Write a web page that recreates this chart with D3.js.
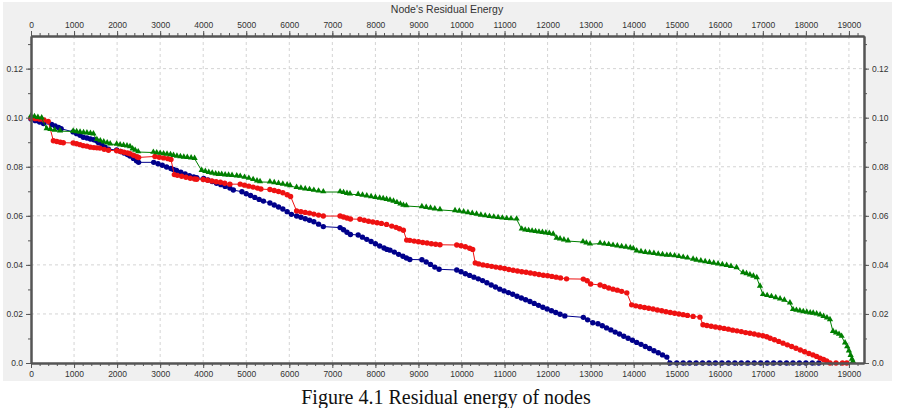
<!DOCTYPE html>
<html>
<head>
<meta charset="utf-8">
<script src="https://cdnjs.cloudflare.com/ajax/libs/d3/7.8.5/d3.min.js"></script>
<style>
  body { margin: 0; background: #fff; }
  svg { display: block; }
</style>
</head>
<body>
<div id="chart"></div>
<script>
"use strict";

// == DATA ==
var chartTitle = "Node's Residual Energy";
var caption = "Figure 4.1 Residual energy of nodes";

var xTicks = [0, 1000, 2000, 3000, 4000, 5000, 6000, 7000, 8000, 9000, 10000,
              11000, 12000, 13000, 14000, 15000, 16000, 17000, 18000, 19000];
var yTicks = [0, 0.02, 0.04, 0.06, 0.08, 0.10, 0.12];
var yTickLabels = ["0.0", "0.02", "0.04", "0.06", "0.08", "0.10", "0.12"];

// [time, residual energy]
var blueNodes = [
  [0,0.0995],[100,0.0988],[200,0.0982],[290,0.0976],
  [480,0.0972],[560,0.0966],[640,0.096],[700,0.0955],
  [980,0.0942],[1060,0.0935],[1140,0.0928],[1215,0.092],
  [1300,0.0917],[1380,0.0913],[1460,0.091],[1530,0.0905],
  [1570,0.0898],[1650,0.089],[1720,0.088],[1800,0.0872],
  [1990,0.0868],[2080,0.0862],[2160,0.0856],[2240,0.085],[2300,0.0844],[2380,0.0834],[2450,0.0824],[2500,0.0818],
  [2850,0.0818],[2950,0.0812],[3050,0.0806],[3150,0.0799],[3250,0.0793],[3310,0.0789],
  [3380,0.0785],[3480,0.0778],[3580,0.0771],[3680,0.0764],[3780,0.0758],[3850,0.0755],
  [4010,0.0752],[4110,0.0746],[4210,0.074],[4310,0.0733],[4410,0.0727],[4510,0.072],[4620,0.0713],[4700,0.0705],
  [4900,0.0698],[5000,0.069],[5100,0.0683],[5200,0.0675],[5300,0.0667],[5400,0.066],
  [5550,0.0652],[5650,0.0644],[5750,0.0636],[5850,0.0628],[5950,0.0617],[6050,0.0606],
  [6170,0.0599],[6270,0.0594],[6370,0.0588],[6470,0.0582],[6570,0.0576],[6680,0.0566],[6790,0.0556],
  [7180,0.0552],[7260,0.0543],[7340,0.0533],[7420,0.0524],
  [7600,0.0522],[7700,0.0513],[7800,0.0504],[7900,0.0495],[8000,0.0486],[8100,0.0477],[8200,0.0469],[8270,0.0463],
  [8340,0.046],[8440,0.0452],[8540,0.0443],[8640,0.0435],[8720,0.0428],[8800,0.0422],
  [9080,0.0421],[9180,0.0412],[9280,0.0402],[9380,0.0391],[9480,0.0382],
  [9890,0.0379],[9990,0.0372],[10090,0.0364],[10190,0.0357],[10290,0.035],[10390,0.0343],
  [10490,0.0336],[10590,0.0327],[10690,0.0318],[10790,0.031],[10890,0.0301],[10990,0.0294],
  [11090,0.0287],[11190,0.028],[11290,0.0272],[11390,0.0265],[11490,0.0258],[11590,0.0251],
  [11690,0.0243],[11790,0.0235],[11890,0.0227],[11990,0.022],[12090,0.0213],[12190,0.0206],
  [12290,0.0199],[12400,0.0192],
  [12830,0.0186],[12930,0.0176],[13050,0.0164],
  [13170,0.016],[13270,0.0152],[13370,0.0143],[13470,0.0135],[13570,0.0126],[13670,0.0118],
  [13770,0.0109],[13870,0.0101],[13970,0.0093],[14070,0.0084],[14170,0.0076],[14270,0.0067],
  [14370,0.0059],[14470,0.005],[14570,0.0042],[14670,0.0033],[14770,0.0024],
  [14840,0],[15000,0],[15150,0],[15300,0],[15450,0],[15600,0],[15750,0],[15900,0],
  [16050,0],[16200,0],[16350,0],[16500,0],[16650,0],[16800,0],[16950,0],[17100,0],
  [17250,0],[17400,0],[17550,0],[17700,0],[17850,0],[18000,0],[18150,0],[18300,0]
];

var redNodes = [
  [0,0.0998],[100,0.0996],[200,0.0994],[300,0.0991],[400,0.0985],
  [520,0.0906],[600,0.0903],[680,0.09],[750,0.0898],
  [980,0.0897],[1060,0.0894],[1140,0.089],[1215,0.0886],
  [1300,0.0884],[1380,0.088],[1460,0.0878],[1530,0.0877],
  [1600,0.0876],[1700,0.0871],[1800,0.0867],
  [1990,0.0865],[2080,0.0862],[2160,0.0859],[2240,0.0856],[2300,0.0853],[2380,0.0847],[2460,0.0841],[2500,0.0838],
  [2880,0.0842],[2980,0.0839],[3080,0.0836],[3180,0.0833],[3250,0.083],
  [3330,0.0768],[3400,0.0765],[3500,0.0761],[3600,0.0757],[3700,0.0753],[3800,0.075],[3850,0.0749],
  [4000,0.0748],[4100,0.0745],[4200,0.0742],[4300,0.0739],[4400,0.0737],[4500,0.0733],[4620,0.0729],
  [4860,0.0729],[4960,0.0725],[5060,0.0721],[5160,0.0717],[5260,0.0713],[5340,0.0709],
  [5550,0.0707],[5650,0.0703],[5750,0.0699],[5850,0.0694],[5950,0.0686],[6030,0.0679],
  [6170,0.062],[6270,0.0617],[6370,0.0614],[6470,0.0611],[6570,0.0607],[6680,0.0603],[6790,0.0599],
  [7180,0.0599],[7260,0.0595],[7340,0.0591],[7420,0.0587],
  [7640,0.0586],[7740,0.0582],[7840,0.0578],[7940,0.0575],[8040,0.0572],[8140,0.0569],[8260,0.0565],
  [8380,0.0558],[8480,0.0553],[8560,0.0547],[8650,0.0541],
  [8727,0.0501],[8800,0.05],[8900,0.0497],[9000,0.0494],[9100,0.0491],[9200,0.0489],[9300,0.0486],[9400,0.0484],[9500,0.0482],
  [9890,0.0481],[9990,0.0478],[10090,0.0474],[10190,0.0468],[10260,0.0463],
  [10320,0.0408],[10400,0.0404],[10500,0.04],[10600,0.0397],[10700,0.0394],[10800,0.0391],
  [10900,0.0388],[11000,0.0385],[11100,0.0381],[11200,0.0378],[11300,0.0375],[11400,0.0372],
  [11500,0.037],[11600,0.0367],[11700,0.0364],[11800,0.0361],[11900,0.0358],[12000,0.0356],
  [12100,0.0353],[12200,0.035],[12300,0.0347],[12440,0.0343],
  [12830,0.0342],[12920,0.0335],[13000,0.0322],
  [13220,0.0318],[13320,0.0312],[13420,0.0306],[13520,0.0301],[13620,0.0297],[13720,0.0292],[13840,0.0286],
  [13953,0.0237],[14050,0.0233],[14150,0.0229],[14250,0.0226],[14350,0.0223],[14450,0.022],
  [14550,0.0216],[14650,0.0213],[14750,0.0209],[14850,0.0206],[14950,0.0203],[15050,0.02],
  [15150,0.0197],[15250,0.0194],[15380,0.019],
  [15540,0.0187],
  [15610,0.0156],[15700,0.0153],[15800,0.015],[15900,0.0147],[16000,0.0144],[16100,0.0141],
  [16200,0.0138],[16300,0.0134],[16400,0.0131],[16500,0.0128],[16600,0.0124],[16700,0.0121],
  [16800,0.0118],[16900,0.0114],[17000,0.0111],[17090,0.0107],
  [17170,0.0101],[17270,0.0095],[17370,0.0088],[17470,0.0081],[17570,0.0074],[17670,0.0067],
  [17770,0.006],[17870,0.0053],[17970,0.0046],[18070,0.0039],[18165,0.0033],[18250,0.0027],
  [18330,0.002],[18410,0.0014],[18483,0.0008],
  [18560,0],[18700,0],[18850,0],[18950,0]
];

var greenNodes = [
  [0,0.1006],[80,0.1003],[160,0.1],[248,0.0998],
  [364,0.0954],[450,0.0951],[550,0.0948],[674,0.0945],
  [980,0.0944],[1060,0.0942],[1140,0.094],[1220,0.0938],[1300,0.0937],[1380,0.0935],[1450,0.0933],
  [1530,0.091],[1610,0.0905],[1690,0.09],[1770,0.0896],[1840,0.0892],
  [1990,0.0891],[2070,0.0888],[2150,0.0886],[2230,0.0884],[2300,0.0881],
  [2360,0.0872],[2420,0.0866],[2490,0.086],
  [2842,0.0858],[2920,0.0856],[3000,0.0854],[3080,0.0852],[3160,0.085],[3240,0.0848],[3310,0.0845],
  [3390,0.0842],[3470,0.084],[3550,0.0838],[3630,0.0837],[3720,0.0835],[3800,0.0833],
  [3965,0.0784],[4050,0.078],[4130,0.0776],[4210,0.0773],[4290,0.077],[4360,0.0768],
  [4430,0.0768],[4510,0.0766],[4590,0.0765],[4670,0.0764],[4780,0.0762],
  [4860,0.076],[4960,0.0756],[5060,0.0752],[5160,0.0747],[5250,0.0741],[5320,0.0738],
  [5550,0.0737],[5650,0.0734],[5750,0.0731],[5850,0.0728],[5950,0.0725],[6020,0.0722],
  [6170,0.0715],[6270,0.0712],[6370,0.0709],[6470,0.0706],[6570,0.0703],[6680,0.07],[6790,0.0697],
  [7180,0.0697],[7260,0.0694],[7340,0.069],[7410,0.0688],
  [7600,0.0686],[7700,0.0683],[7800,0.068],[7900,0.0677],[8000,0.0674],[8100,0.0671],[8180,0.0669],[8260,0.0666],
  [8340,0.0663],[8420,0.0659],[8500,0.0653],[8580,0.0647],[8650,0.0642],[8720,0.064],
  [9080,0.0636],[9180,0.0633],[9280,0.063],[9380,0.0627],[9500,0.0624],
  [9850,0.062],[9950,0.0618],[10050,0.0615],[10150,0.0612],[10250,0.0609],[10350,0.0606],
  [10450,0.0602],[10550,0.0599],[10650,0.0596],[10750,0.0594],[10850,0.0592],[10950,0.059],
  [11050,0.0588],[11150,0.0587],[11280,0.0586],
  [11400,0.0545],[11480,0.0541],[11560,0.0539],[11640,0.0537],[11720,0.0535],[11800,0.0533],
  [11880,0.0531],[11960,0.0529],[12040,0.0527],[12130,0.0524],
  [12210,0.0508],[12290,0.0505],[12380,0.0501],[12475,0.0497],
  [12822,0.0493],[12900,0.0488],[12985,0.0484],
  [13220,0.0487],[13320,0.0484],[13420,0.0482],[13520,0.0479],[13620,0.0476],[13720,0.0473],
  [13820,0.0471],[13920,0.0468],[13990,0.0465],
  [14070,0.0456],[14170,0.0453],[14270,0.045],[14370,0.0448],[14470,0.0446],[14570,0.0443],
  [14670,0.0441],[14770,0.0438],
  [14850,0.0438],[14950,0.0436],[15050,0.0433],[15150,0.043],[15250,0.0427],[15380,0.0422],
  [15460,0.0418],[15560,0.0415],[15660,0.0412],[15760,0.0409],[15860,0.0406],[15960,0.0403],
  [16060,0.04],[16160,0.0397],[16260,0.0393],[16390,0.0388],
  [16540,0.0367],[16620,0.0363],[16700,0.0358],[16780,0.0353],[16860,0.0347],
  [16934,0.0312],
  [17004,0.0278],[17100,0.0274],[17200,0.027],[17300,0.0265],[17400,0.026],[17500,0.0255],[17630,0.0244],
  [17700,0.0217],[17780,0.0214],[17860,0.0211],[17940,0.0208],[18020,0.0206],[18100,0.0203],
  [18170,0.0202],[18250,0.0199],[18330,0.0195],[18410,0.0189],[18490,0.0183],[18560,0.0176],
  [18630,0.0128],[18700,0.0122],[18770,0.0116],[18830,0.0108],
  [18910,0.0081],[18960,0.0065],[19000,0.0048],[19040,0.003],[19070,0.0015],[19094,0.0005]
];

// == BOILERPLATE ==
var W = 900, H = 408;
var margin = { top: 36, right: 36, bottom: 45, left: 31 },
    width = W - margin.left - margin.right,
    height = H - margin.top - margin.bottom;

var svg = d3.select("#chart")
            .append("svg")
            .attr("width", W)
            .attr("height", H);

// gray panel behind the plot
svg.append("rect")
   .attr("x", 3).attr("y", 2)
   .attr("width", 889).attr("height", 379)
   .attr("fill", "#f0f0f0");

svg.append("text")
   .attr("x", 447).attr("y", 13)
   .attr("text-anchor", "middle")
   .attr("font-family", "Liberation Sans, Arial, sans-serif")
   .attr("font-size", "10.5px")
   .attr("fill", "#333")
   .text(chartTitle);

svg.append("text")
   .attr("x", 446).attr("y", 404)
   .attr("text-anchor", "middle")
   .attr("font-family", "Liberation Serif, Times New Roman, serif")
   .attr("font-size", "20px")
   .attr("fill", "#111")
   .text(caption);

var g = svg.append("g")
           .attr("transform", "translate(" + margin.left + "," + margin.top + ")");

var x = d3.scaleLinear().domain([0, 19350]).range([0, width]);
var y = d3.scaleLinear().domain([0, 0.1333]).range([height, 0]);

g.append("rect")
 .attr("width", width).attr("height", height)
 .attr("fill", "#fff");

// dashed grid
g.selectAll(".vgrid")
 .data(xTicks.filter(function (d) { return d > 0; }))
 .enter().append("line")
 .attr("x1", function (d) { return x(d); })
 .attr("x2", function (d) { return x(d); })
 .attr("y1", 0).attr("y2", height)
 .attr("stroke", "#d4d4d4")
 .attr("stroke-dasharray", "3,3");

g.selectAll(".hgrid")
 .data(yTicks.filter(function (d) { return d > 0; }))
 .enter().append("line")
 .attr("y1", function (d) { return y(d); })
 .attr("y2", function (d) { return y(d); })
 .attr("x1", 0).attr("x2", width)
 .attr("stroke", "#d4d4d4")
 .attr("stroke-dasharray", "3,3");

// == SERIES ==
var line = d3.line()
             .x(function (d) { return x(d[0]); })
             .y(function (d) { return y(d[1]); });

var series = [
  { data: blueNodes, color: "#00008b", shape: "circle" },
  { data: redNodes, color: "#ee1111", shape: "circle" },
  { data: greenNodes, color: "#007f00", shape: "triangle" }
];

var tri = d3.symbol().type(d3.symbolTriangle).size(17);

series.forEach(function (s) {
  g.append("path")
   .datum(s.data)
   .attr("d", line)
   .attr("fill", "none")
   .attr("stroke", s.color)
   .attr("stroke-width", 1);

  if (s.shape === "circle") {
    g.selectAll(null)
     .data(s.data)
     .enter().append("circle")
     .attr("cx", function (d) { return x(d[0]); })
     .attr("cy", function (d) { return y(d[1]); })
     .attr("r", 2.7)
     .attr("fill", s.color);
  } else {
    g.selectAll(null)
     .data(s.data)
     .enter().append("path")
     .attr("d", tri)
     .attr("transform", function (d) {
       return "translate(" + x(d[0]) + "," + (y(d[1]) - 0.5) + ")";
     })
     .attr("fill", s.color);
  }
});

// == AXES ==
var xMinor = d3.range(0, 19350, 200);
var yMinor = d3.range(0, 0.1335, 0.01);

function styleAxis(sel) {
  sel.attr("font-family", "Liberation Sans, Arial, sans-serif")
     .attr("font-size", "8.5px");
  sel.selectAll("text").attr("fill", "#333");
  sel.selectAll("line").attr("stroke", "#555");
  sel.select(".domain").attr("stroke", "#555").attr("stroke-width", 2);
}

function fmtY(d) { return yTickLabels[yTicks.indexOf(d)]; }

var axes = [
  { ax: d3.axisBottom, sc: x, t: "translate(0," + height + ")", ticks: xTicks, minor: xMinor, fmt: d3.format("d") },
  { ax: d3.axisTop, sc: x, t: "translate(0,0)", ticks: xTicks, minor: xMinor, fmt: d3.format("d") },
  { ax: d3.axisLeft, sc: y, t: "translate(0,0)", ticks: yTicks, minor: yMinor, fmt: fmtY },
  { ax: d3.axisRight, sc: y, t: "translate(" + width + ",0)", ticks: yTicks, minor: yMinor, fmt: fmtY }
];

axes.forEach(function (a) {
  g.append("g")
   .attr("transform", a.t)
   .call(a.ax(a.sc).tickValues(a.minor).tickSize(3).tickSizeOuter(0).tickFormat(""))
   .call(styleAxis);
  g.append("g")
   .attr("transform", a.t)
   .call(a.ax(a.sc).tickValues(a.ticks).tickSize(5).tickSizeOuter(0).tickFormat(a.fmt))
   .call(styleAxis);
});
</script>
</body>
</html>
